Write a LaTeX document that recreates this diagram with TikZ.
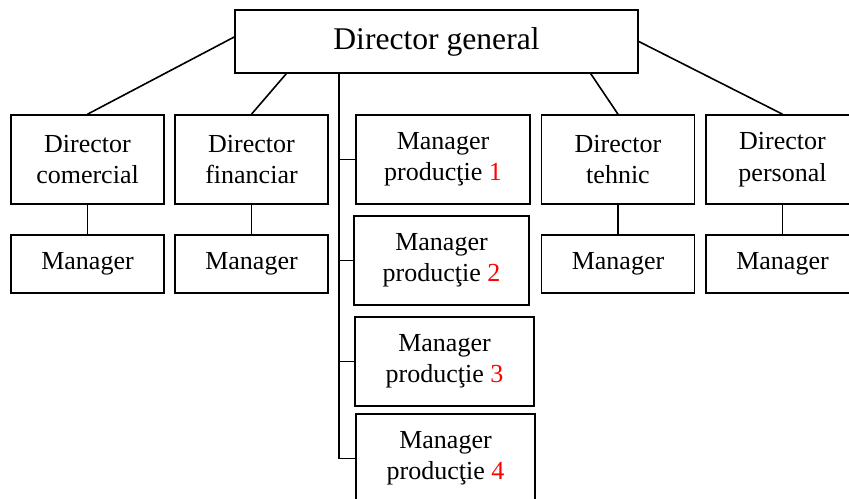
\documentclass[tikz,border=0pt]{standalone}
\usepackage{fontspec}
\setmainfont{Liberation Serif}
\usetikzlibrary{calc}

\begin{document}
\begin{tikzpicture}[x=0.75pt,y=-0.75pt,line width=1.2pt]
        \tikzstyle{box} = [draw,rectangle,align=center,inner sep=0pt,minimum width=114.75pt,minimum height=66.75pt,font=\fontsize{19.5}{23.5}\selectfont]
        \tikzstyle{mgr} = [box,minimum height=43.5pt]
        \clip (0,0) rectangle (849,499);
        \node(gen)[box,minimum width=302.25pt,minimum height=47.25pt,font=\fontsize{23.7}{28}\selectfont] at (436.5,41.5) {Director general};
        \foreach \n/\x/\t in {com/87.5/comercial,fin/251.5/financiar,teh/618/tehnic,per/782.5/personal}{
          \node(\n)[box] at (\x,159.5) {Director\\ \t};
          \node(m\n)[mgr] at (\x,264) {Manager};
          \draw (\n.south) -- (\n.south |- m\n.north);
        }
        \foreach \i/\x/\y/\w in {1/443/159.5/130.5pt,2/441.5/260.5/131.25pt,3/444.5/361.5/134.25pt,4/445.5/458.5/134.25pt}{
          \node(mp\i)[box,minimum width=\w] at (\x,\y) {Manager\\ producţie {\color{red}\i}};
        }
        \draw ($(gen.west)+(0,-4.5)$) -- (com.north);
        \draw ($(gen.south west)+(52,0)$) -- (fin.north);
        \draw ($(gen.south east)+(-48,0)$) -- (teh.north);
        \draw (gen.east) -- (per.north);
        \coordinate (trunk) at ($(gen.south west)+(105,0)$);
        \draw (trunk) |- (mp4.west);
        \foreach \i in {1,2,3}
          \draw (trunk |- mp\i.west) -- (mp\i.west);
      \end{tikzpicture}
\end{document}
